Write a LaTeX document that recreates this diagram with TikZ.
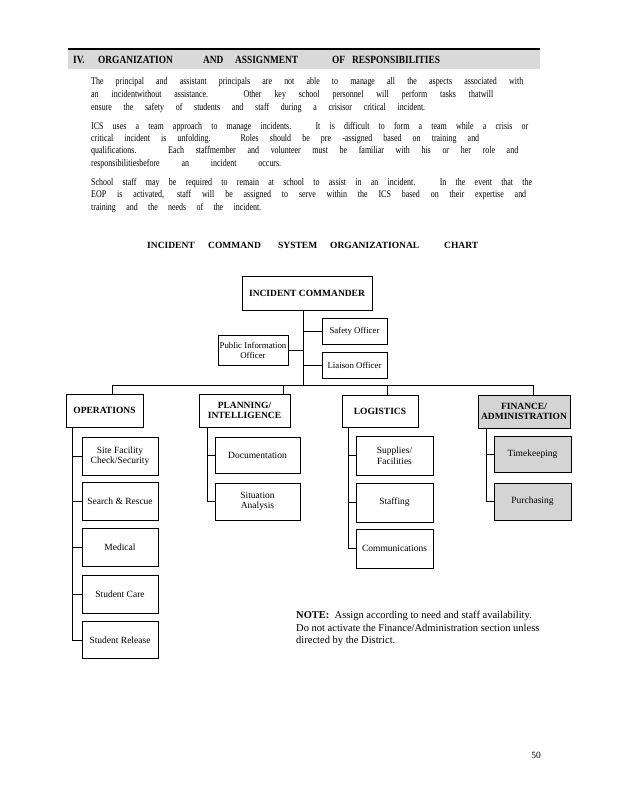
\documentclass[tikz,border=0pt]{standalone}
\usepackage{fontspec}
\setmainfont{Liberation Serif}
\newfontfamily\narrowfont{Liberation Serif}[FakeStretch=0.78]
\newfontfamily\headfont{Liberation Serif}[FakeStretch=0.85]
\tikzset{
  box/.style={draw, line width=0.9pt, fill=white, align=center, inner sep=1pt,
    font=\fontsize{9.5}{10.5}\selectfont},
  chief/.style={box, font=\bfseries\fontsize{9.5}{10.5}\selectfont},
  officer/.style={box, font=\fontsize{8.8}{10}\selectfont},
  shaded/.style={fill=black!17},
  link/.style={line width=0.8pt},
  txt/.style={anchor=west, inner sep=0pt, font=\narrowfont\fontsize{10.2}{11}\selectfont},
  headword/.style={anchor=west, inner sep=0pt, font=\headfont\bfseries\fontsize{11}{12}\selectfont},
  titleword/.style={anchor=west, inner sep=0pt, font=\bfseries\fontsize{9.5}{11}\selectfont},
}
\begin{document}
\begin{tikzpicture}[x=1pt,y=-1pt]
    \useasboundingbox (0,0) rectangle (618,800);
    %intestazione
    \fill[black!15] (68,49) rectangle (540,69);
    \draw[line width=1.2pt] (68,49) -- (540,49);
    \foreach \w/\x [count=\i] in {IV./73, ORGANIZATION/98, AND/203, ASSIGNMENT/235, OF/332, RESPONSIBILITIES/352}
        \node[headword] (h\i) at (\x,59.5) {\w};
    %paragrafi
    \node[txt] (p1a) at (91,82.3) {\makebox[432pt][s]{The principal and assistant principals are not able to manage all the aspects associated with}};
    \node[txt] (p1b) at (91,95) {\makebox[402pt][s]{an incidentwithout assistance. Other key school personnel will perform tasks thatwill}};
    \node[txt] (p1c) at (91,107.7) {\makebox[334pt][s]{ensure the safety of students and staff during a crisisor critical incident.}};
    \node[txt] (p2a) at (91,127.3) {\makebox[437pt][s]{ICS uses a team approach to manage incidents. It is difficult to form a team while a crisis or}};
    \node[txt] (p2b) at (91,139) {\makebox[388pt][s]{critical incident is unfolding. Roles should be pre -assigned based on training and}};
    \node[txt] (p2c) at (91,151.3) {\makebox[427pt][s]{qualifications. Each staffmember and volunteer must be familiar with his or her role and}};
    \node[txt] (p2d) at (91,164) {\makebox[190pt][s]{responsibilitiesbefore an incident occurs.}};
    \node[txt] (p3a) at (91,182.7) {\makebox[441pt][s]{School staff may be required to remain at school to assist in an incident. In the event that the}};
    \node[txt] (p3b) at (91,195.3) {\makebox[435pt][s]{EOP is activated, staff will be assigned to serve within the ICS based on their expertise and}};
    \node[txt] (p3c) at (91,207.7) {\makebox[170pt][s]{training and the needs of the incident.}};
    %titolo
    \foreach \w/\x [count=\i] in {INCIDENT/147, COMMAND/208, SYSTEM/278, ORGANIZATIONAL/330, CHART/444}
        \node[titleword] (t\i) at (\x,245) {\w};
    %comandante e ufficiali
    \node[chief, minimum width=130pt, minimum height=34pt] (ic) at (307,293) {INCIDENT COMMANDER};
    \node[officer, minimum width=65pt, minimum height=26pt] (safety) at (354.5,331) {Safety Officer};
    \node[officer, minimum width=65pt, minimum height=26pt] (liaison) at (354.5,365) {Liaison Officer};
    \node[officer, minimum width=70pt, minimum height=30pt] (pio) at (253,350) {Public Information\\Officer};
    \coordinate (hub) at (303,385);
    \draw[link] (ic.south -| hub) -- (hub);
    \draw[link] (safety.west) -- (safety.west -| hub);
    \draw[link] (liaison.west) -- (liaison.west -| hub);
    \draw[link] (pio.east) -- (pio.east -| hub);
    %sezioni
    \node[chief, minimum width=77pt, minimum height=33pt] (ops) at (104.5,410.5) {OPERATIONS};
    \node[chief, minimum width=91pt, minimum height=33pt] (plan) at (244.5,410.5) {PLANNING/\\INTELLIGENCE};
    \node[chief, minimum width=76pt, minimum height=32pt] (log) at (380,411) {LOGISTICS};
    \node[chief, shaded, minimum width=92pt, minimum height=33pt] (fin) at (524,411.5) {FINANCE/\\ADMINISTRATION};
    \coordinate (b1) at (112,385);
    \coordinate (b2) at (283,385);
    \coordinate (b3) at (387,385);
    \coordinate (b4) at (533,385);
    \draw[link, line width=1pt] (ops.north -| b1) -- (b1) -- (b4) -- (fin.north -| b4);
    \draw[link] (b2) -- (plan.north -| b2);
    \draw[link] (b3) -- (log.north -| b3);
    %operazioni
    \node[box, minimum width=76pt, minimum height=38pt] (site) at (120,456) {Site Facility\\Check/Security};
    \node[box, minimum width=76pt, minimum height=38pt] (rescue) at (120,501) {Search \& Rescue};
    \node[box, minimum width=76pt, minimum height=38pt] (medical) at (120,547.5) {Medical};
    \node[box, minimum width=76pt, minimum height=38pt] (care) at (120,594) {Student Care};
    \node[box, minimum width=76pt, minimum height=37pt] (release) at (120,640) {Student Release};
    \foreach \n in {site,rescue,medical,care,release}
        \draw[link] ([xshift=7.3pt]ops.south west) |- (\n.west);
    %pianificazione
    \node[box, minimum width=85pt, minimum height=36pt] (docu) at (257.5,455) {Documentation};
    \node[box, minimum width=85pt, minimum height=37pt] (situ) at (257.5,501.5) {Situation\\Analysis};
    \foreach \n in {docu,situ}
        \draw[link] ([xshift=8.7pt]plan.south west) |- (\n.west);
    %logistica
    \node[box, minimum width=77pt, minimum height=39pt] (supply) at (394.5,455.5) {Supplies/\\Facilities};
    \node[box, minimum width=77pt, minimum height=39pt] (staffing) at (394.5,502.5) {Staffing};
    \node[box, minimum width=77pt, minimum height=39pt] (comms) at (394.5,548.5) {Communications};
    \foreach \n in {supply,staffing,comms}
        \draw[link] ([xshift=7.3pt]log.south west) |- (\n.west);
    %finanza
    \node[box, shaded, minimum width=77pt, minimum height=36pt] (timek) at (532.5,454) {Timekeeping};
    \node[box, shaded, minimum width=77pt, minimum height=37pt] (purch) at (532.5,501.5) {Purchasing};
    \foreach \n in {timek,purch}
        \draw[link] ([xshift=8.7pt]fin.south west) |- (\n.west);
    %nota
    \node[anchor=north west, inner sep=0pt, align=left, font=\fontsize{10.5}{12.5}\selectfont] (note) at (296,611)
        {\textbf{NOTE:}\ \ Assign according to need and staff availability.\\Do not activate the Finance/Administration section unless\\directed by the District.};
    \node[font=\fontsize{9.5}{10}\selectfont] (pagenum) at (536,755) {50};
\end{tikzpicture}
\end{document}
